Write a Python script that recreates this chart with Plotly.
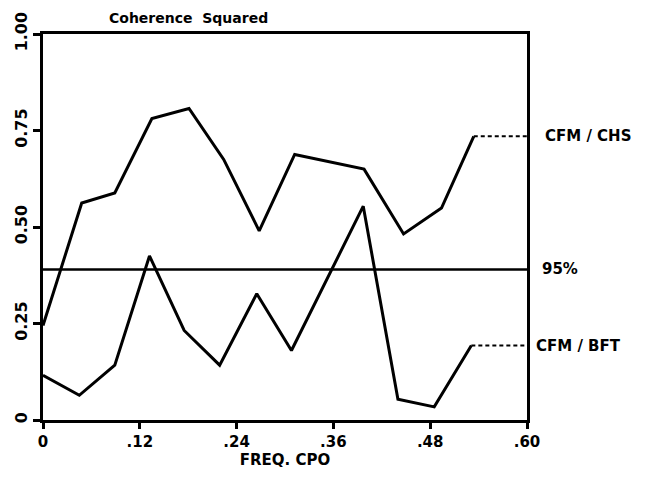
import plotly.graph_objects as go

# Coherence squared vs frequency (cycles per day)
freq_chs = [0, 0.048, 0.089, 0.135, 0.181, 0.224, 0.268, 0.312, 0.398, 0.447, 0.494, 0.534]
coh_chs = [0.245, 0.562, 0.588, 0.781, 0.807, 0.675, 0.49, 0.688, 0.65, 0.482, 0.549, 0.735]

freq_bft = [0, 0.045, 0.089, 0.132, 0.175, 0.219, 0.265, 0.308, 0.397, 0.440, 0.485, 0.531]
coh_bft = [0.116, 0.064, 0.142, 0.425, 0.232, 0.142, 0.327, 0.18, 0.554, 0.054, 0.034, 0.193]

sig95 = 0.39
x_max = 0.60

x_ticks = [0, 0.12, 0.24, 0.36, 0.48, 0.60]
x_ticktext = ["0", ".12", ".24", ".36", ".48", ".60"]
y_ticks = [0, 0.25, 0.5, 0.75, 1.0]
y_ticktext = ["0", "0.25", "0.50", "0.75", "1.00"]

FONT = "DejaVu Sans"
INK = "#000000"

fig = go.Figure()

line_style = dict(color=INK, width=3)

fig.add_trace(go.Scatter(x=freq_chs, y=coh_chs, mode="lines", line=line_style,
                         showlegend=False, hoverinfo="skip"))
fig.add_trace(go.Scatter(x=freq_bft, y=coh_bft, mode="lines", line=line_style,
                         showlegend=False, hoverinfo="skip"))

# dashed leaders from the last point to the right frame
for fx, fy in ((freq_chs, coh_chs), (freq_bft, coh_bft)):
    fig.add_trace(go.Scatter(x=[fx[-1], x_max], y=[fy[-1], fy[-1]], mode="lines",
                             line=dict(color=INK, width=2, dash="4px,3px"),
                             showlegend=False, hoverinfo="skip"))

# 95% significance level
fig.add_trace(go.Scatter(x=[0, x_max], y=[sig95, sig95], mode="lines",
                         line=dict(color=INK, width=2.5),
                         showlegend=False, hoverinfo="skip"))

label_font = dict(family=FONT, size=15, color=INK)
for text, yv, shift in (("<b>CFM / CHS</b>", coh_chs[-1], 16), ("<b>95%</b>", sig95, 13),
                        ("<b>CFM / BFT</b>", coh_bft[-1], 7)):
    fig.add_annotation(x=1.0, xref="paper", y=yv, yref="y", text=text,
                       showarrow=False, xanchor="left", xshift=shift,
                       font=label_font)

fig.add_annotation(x=0.133, xref="paper", y=1.0, yref="paper", text="<b>Coherence  Squared</b>",
                   showarrow=False, xanchor="left", yanchor="bottom", yshift=6,
                   font=dict(family=FONT, size=14, color=INK))

tick_font = dict(family=FONT, size=15, color=INK)
fig.update_xaxes(range=[0, x_max], tickvals=x_ticks,
                 ticktext=["<b>%s</b>" % t for t in x_ticktext],
                 showline=True, linecolor=INK, linewidth=3, mirror=True,
                 ticks="outside", ticklen=6, tickwidth=2.5, tickcolor=INK,
                 showgrid=False, zeroline=False,
                 tickfont=tick_font,
                 title=dict(text="<b>FREQ. CPO</b>", standoff=4,
                            font=dict(family=FONT, size=15, color=INK)))
fig.update_yaxes(range=[0, 1.0], tickvals=y_ticks,
                 ticktext=["<b>%s</b>" % t for t in y_ticktext],
                 showline=True, linecolor=INK, linewidth=3, mirror=True,
                 ticks="outside", ticklen=7, tickwidth=2.5, tickcolor=INK,
                 showgrid=False, zeroline=False, tickangle=-90,
                 tickfont=dict(family=FONT, size=16, color=INK))

fig.update_layout(width=653, height=481,
                  margin=dict(l=41, r=126, t=32, b=61),
                  plot_bgcolor="white", paper_bgcolor="white",
                  font=dict(family=FONT, color=INK))

fig.write_html("out.html")
